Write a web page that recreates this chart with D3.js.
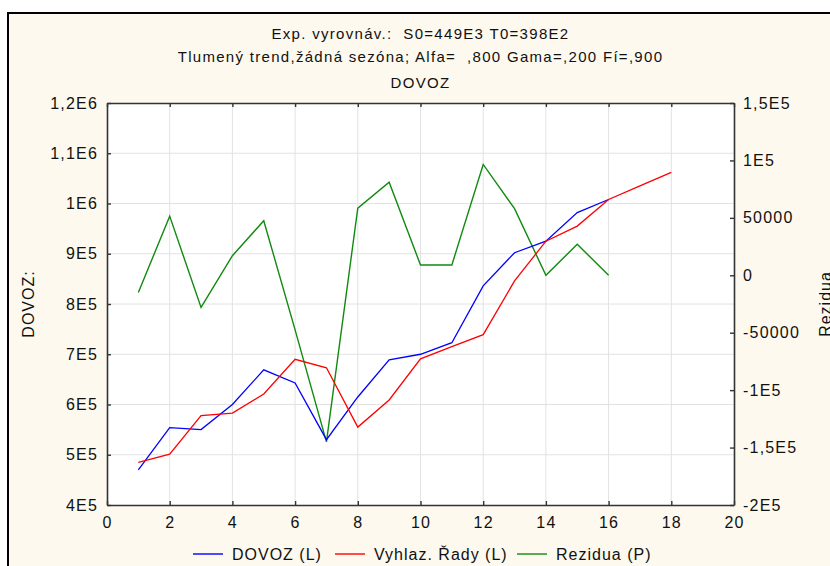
<!DOCTYPE html>
<html>
<head>
<meta charset="utf-8">
<script src="https://cdn.jsdelivr.net/npm/d3@7"></script>
<style>
  body { margin: 0; background: #fff; }
  text { font-family: Arial, "Liberation Sans", sans-serif; fill: #111; white-space: pre; }
</style>
</head>
<body>
<svg id="chart" width="830" height="566"></svg>
<script>
const titleLines = [
  'Exp. vyrovnáv.:  S0=449E3 T0=398E2',
  'Tlumený trend,žádná sezóna; Alfa=  ,800 Gama=,200 Fí=,900',
  'DOVOZ'
];

const dovozX = d3.range(1, 17);
const dovoz = [470000, 554000, 550000, 600000, 669000, 643000, 530000, 615000,
  689000, 700000, 723000, 836000, 902000, 925000, 982000, 1008000];

const smoothX = d3.range(1, 19);
const smooth = [485000, 501000, 578000, 583000, 621000, 690000, 673000, 555000,
  609000, 691000, 715000, 739000, 846000, 925000, 955000, 1008000, 1035000, 1062000];

const residX = d3.range(1, 17);
const resid = [-15000, 51500, -28000, 17000, 47500, -47500, -145000, 58500,
  81000, 9000, 9000, 96500, 58000, 0, 27000, 0];

const xTicks = [0, 2, 4, 6, 8, 10, 12, 14, 16, 18, 20];
const leftTicks = [4e5, 5e5, 6e5, 7e5, 8e5, 9e5, 1e6, 1.1e6, 1.2e6];
const leftLabels = ['4E5', '5E5', '6E5', '7E5', '8E5', '9E5', '1E6', '1,1E6', '1,2E6'];
const rightTicks = [-2e5, -1.5e5, -1e5, -5e4, 0, 5e4, 1e5, 1.5e5];
const rightLabels = ['-2E5', '-1,5E5', '-1E5', '-50000', '0', '50000', '1E5', '1,5E5'];

const legendItems = [
  { name: 'DOVOZ (L)', color: '#0000ff' },
  { name: 'Vyhlaz. Řady (L)', color: '#ff0000' },
  { name: 'Rezidua (P)', color: '#108a10' }
];

const plot = { left: 107, right: 734, top: 103, bottom: 505 };
const fs = 16;

const svg = d3.select('#chart');

// outer frame
svg.append('rect')
  .attr('x', 8).attr('y', 13)
  .attr('width', 840).attr('height', 570)
  .attr('fill', '#fdf9ee')
  .attr('stroke', '#000')
  .attr('stroke-width', 2);

svg.append('rect')
  .attr('x', plot.left).attr('y', plot.top)
  .attr('width', plot.right - plot.left).attr('height', plot.bottom - plot.top)
  .attr('fill', '#fff');

const x = d3.scaleLinear().domain([0, 20]).range([plot.left, plot.right]);
const yL = d3.scaleLinear().domain([4e5, 1.2e6]).range([plot.bottom, plot.top]);
const yR = d3.scaleLinear().domain([-2e5, 1.5e5]).range([plot.bottom, plot.top]);

// grid
svg.append('g').selectAll('line')
  .data(xTicks.slice(1, -1))
  .join('line')
  .attr('x1', d => x(d)).attr('x2', d => x(d))
  .attr('y1', plot.top).attr('y2', plot.bottom)
  .attr('stroke', '#e2e2e2');

svg.append('g').selectAll('line')
  .data(leftTicks.slice(1, -1))
  .join('line')
  .attr('x1', plot.left).attr('x2', plot.right)
  .attr('y1', d => yL(d)).attr('y2', d => yL(d))
  .attr('stroke', '#e2e2e2');

// lines
const lineL = xs => d3.line().x((d, i) => x(xs[i])).y(d => yL(d));
const lineR = xs => d3.line().x((d, i) => x(xs[i])).y(d => yR(d));

svg.append('path').datum(resid)
  .attr('d', lineR(residX))
  .attr('fill', 'none').attr('stroke', legendItems[2].color).attr('stroke-width', 1.4);

svg.append('path').datum(dovoz)
  .attr('d', lineL(dovozX))
  .attr('fill', 'none').attr('stroke', legendItems[0].color).attr('stroke-width', 1.3);

svg.append('path').datum(smooth)
  .attr('d', lineL(smoothX))
  .attr('fill', 'none').attr('stroke', legendItems[1].color).attr('stroke-width', 1.3);

// axes
function styleAxis(g) {
  g.select('.domain').attr('stroke', '#333').attr('stroke-width', 1.6);
  g.selectAll('.tick line').attr('stroke', '#333').attr('stroke-width', 1.4);
  g.selectAll('.tick text').attr('font-size', fs).attr('fill', '#111')
    .attr('letter-spacing', 1.2)
    .attr('font-family', 'Arial, "Liberation Sans", sans-serif');
}

svg.append('g')
  .attr('transform', `translate(0,${plot.bottom})`)
  .call(d3.axisBottom(x).tickValues(xTicks).tickSize(-4).tickSizeOuter(0).tickPadding(12))
  .call(styleAxis);

svg.append('g')
  .attr('transform', `translate(0,${plot.top})`)
  .call(d3.axisTop(x).tickValues(xTicks).tickSize(-4).tickSizeOuter(0).tickFormat(''))
  .call(styleAxis);

svg.append('g')
  .attr('transform', `translate(${plot.left},0)`)
  .call(d3.axisLeft(yL).tickValues(leftTicks).tickSize(-4).tickSizeOuter(0).tickPadding(9)
    .tickFormat((d, i) => leftLabels[i]))
  .call(styleAxis);

svg.append('g')
  .attr('transform', `translate(${plot.right},0)`)
  .call(d3.axisRight(yR).tickValues(rightTicks).tickSize(-4).tickSizeOuter(0).tickPadding(9)
    .tickFormat((d, i) => rightLabels[i]))
  .call(styleAxis);

// titles
const cx = (plot.left + plot.right) / 2;
svg.append('g').selectAll('text')
  .data(titleLines)
  .join('text')
  .attr('x', cx)
  .attr('y', (d, i) => [39, 62, 88][i])
  .attr('text-anchor', 'middle')
  .attr('font-size', 15)
  .attr('letter-spacing', 1.3)
  .text(d => d);

svg.append('text')
  .attr('transform', `translate(34,${(plot.top + plot.bottom) / 2}) rotate(-90)`)
  .attr('text-anchor', 'middle')
  .attr('font-size', fs)
  .attr('letter-spacing', 1)
  .text('DOVOZ:');

svg.append('text')
  .attr('transform', `translate(831,${(plot.top + plot.bottom) / 2}) rotate(-90)`)
  .attr('text-anchor', 'middle')
  .attr('font-size', fs)
  .attr('letter-spacing', 1)
  .text('Rezidua');

// legend
const legendX = [193, 335, 517];
const lg = svg.append('g').selectAll('g')
  .data(legendItems)
  .join('g')
  .attr('transform', (d, i) => `translate(${legendX[i]},554)`);

lg.append('line')
  .attr('x1', 0).attr('x2', 30)
  .attr('stroke', d => d.color).attr('stroke-width', 1.4);

lg.append('text')
  .attr('x', 39).attr('y', 5.5)
  .attr('font-size', fs)
  .attr('letter-spacing', 1)
  .text(d => d.name);
</script>
</body>
</html>
